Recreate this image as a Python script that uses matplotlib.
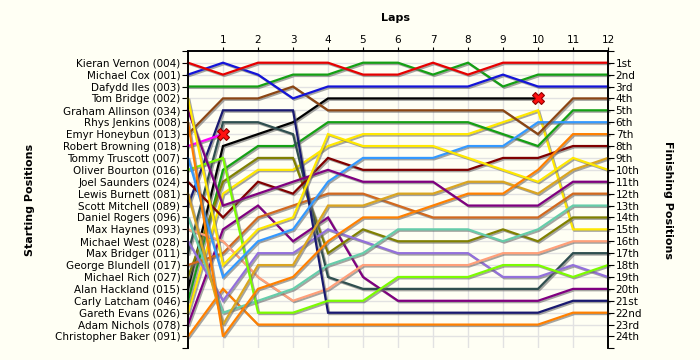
import matplotlib
matplotlib.use("Agg")
import matplotlib.pyplot as plt
import matplotlib.patheffects as pe

# ---------------- data ----------------
drivers = ["Kieran Vernon (004)", "Michael Cox (001)", "Dafydd Iles (003)", "Tom Bridge (002)",
           "Graham Allinson (034)", "Rhys Jenkins (008)", "Emyr Honeybun (013)", "Robert Browning (018)",
           "Tommy Truscott (007)", "Oliver Bourton (016)", "Joel Saunders (024)", "Lewis Burnett (081)",
           "Scott Mitchell (089)", "Daniel Rogers (096)", "Max Haynes (093)", "Michael West (028)",
           "Max Bridger (011)", "George Blundell (017)", "Michael Rich (027)", "Alan Hackland (015)",
           "Carly Latcham (046)", "Gareth Evans (026)", "Adam Nichols (078)", "Christopher Baker (091)"]

finish_labels = ["1st", "2nd", "3rd", "4th", "5th", "6th", "7th", "8th", "9th", "10th", "11th", "12th",
                 "13th", "14th", "15th", "16th", "17th", "18th", "19th", "20th", "21st", "22nd", "23rd", "24th"]

laps = list(range(0, 13))

# positions at lap 0..12 (lap 0 = starting grid); shorter lists = retired
pos_vernon    = [1, 2, 1, 1, 1, 2, 2, 1, 2, 1, 1, 1, 1]
pos_cox       = [2, 1, 2, 4, 3, 3, 3, 3, 3, 2, 3, 3, 3]
pos_iles      = [3, 3, 3, 2, 2, 1, 1, 2, 1, 3, 2, 2, 2]
pos_bridge    = [4, 18, 15, 14, 7, 8, 8, 8, 9, 10, 11, 9, 10]
pos_allinson  = [5, 13, 12, 11, 10, 11, 11, 11, 13, 13, 13, 11, 11]
pos_jenkins   = [6, 24, 20, 19, 16, 14, 14, 13, 12, 12, 10, 7, 7]
pos_honeybun  = [7, 4, 4, 3, 5, 5, 5, 5, 5, 5, 7, 4, 4]
pos_browning  = [8, 7]
pos_truscott  = [9, 19, 16, 15, 11, 9, 9, 9, 8, 8, 6, 6, 6]
pos_bourton   = [10, 9, 22, 22, 21, 21, 19, 19, 19, 18, 18, 19, 18]
pos_saunders  = [11, 14, 11, 12, 9, 10, 10, 10, 10, 9, 9, 8, 8]
pos_burnett   = [12, 23, 18, 18, 13, 13, 12, 12, 11, 11, 12, 10, 9]
pos_mitchell  = [13, 5, 5, 5, 22, 22, 22, 22, 22, 22, 22, 21, 21]
pos_rogers    = [14, 22, 21, 20, 18, 17, 15, 15, 15, 16, 15, 13, 13]
pos_haynes    = [15, 16, 19, 21, 20, 18, 18, 18, 18, 17, 17, 16, 16]
pos_west      = [16, 21, 17, 17, 15, 16, 17, 17, 17, 19, 19, 18, 19]
pos_bridger   = [17, 6, 6, 7, 19, 20, 20, 20, 20, 20, 20, 17, 17]
pos_blundell  = [18, 17, 14, 13, 12, 12, 13, 14, 14, 14, 14, 12, 12]
pos_rich      = [19, 11, 9, 9, 17, 15, 16, 16, 16, 15, 16, 14, 14]
pos_hackland  = [20, 8, 7, 6, 4, 4, 4, 4, 4, 4, 4]
pos_latcham   = [21, 10, 8, 8, 6, 6, 6, 6, 6, 7, 8, 5, 5]
pos_evans     = [22, 12, 10, 10, 8, 7, 7, 7, 7, 6, 5, 15, 15]
pos_nichols   = [23, 15, 13, 16, 14, 19, 21, 21, 21, 21, 21, 20, 20]
pos_baker     = [24, 20, 23, 23, 23, 23, 23, 23, 23, 23, 23, 22, 22]

positions = [pos_vernon, pos_cox, pos_iles, pos_bridge, pos_allinson, pos_jenkins, pos_honeybun,
             pos_browning, pos_truscott, pos_bourton, pos_saunders, pos_burnett, pos_mitchell,
             pos_rogers, pos_haynes, pos_west, pos_bridger, pos_blundell, pos_rich, pos_hackland,
             pos_latcham, pos_evans, pos_nichols, pos_baker]

colors = ["#E60000", "#1414D8", "#14A014", "#FFE800", "#800080", "#FF8000", "#8B4513", "#FF00FF",
          "#3399FF", "#7CFC00", "#800000", "#DAA520", "#191970", "#66CDAA", "#FFA07A", "#9370DB",
          "#2F4F4F", "#D2691E", "#808000", "#000000", "#14A014", "#FFE800", "#800080", "#FF8000"]

retired = [i for i, p in enumerate(positions) if len(p) < len(laps)]

# ---------------- figure ----------------
bg = "#FFFFF4"
fig = plt.figure(figsize=(7, 3.6), dpi=100, facecolor=bg)
ax = fig.add_axes([188 / 700, 1 - 348.4 / 360, 420 / 700, 297.6 / 360])
ax.set_facecolor(bg)
ax.set_xlim(0, 12)
ax.set_ylim(25, 0)

for x in range(1, 13):
    ax.axvline(x, color="#E2E2E2", lw=1, zorder=0)
for y in range(1, 25):
    ax.axhline(y, color="#E2E2E2", lw=1, zorder=0)

shadow = [pe.SimpleLineShadow(offset=(1.0, -1.0), shadow_color="#6a6a6a", alpha=0.6), pe.Normal()]
for i, (p, c) in enumerate(zip(positions, colors)):
    ax.plot(laps[:len(p)], p, color=c, lw=1.6, solid_joinstyle="miter",
            path_effects=shadow, zorder=3 + (24 - i) * 0.01, clip_on=False)

for i in retired:
    p = positions[i]
    ax.plot(len(p) - 1, p[-1], marker="X", ms=8, mfc="#FF1010", mec="#900000", mew=0.8, zorder=10)

font = "DejaVu Sans"
ax.xaxis.tick_top()
ax.set_xticks(range(1, 13))
ax.set_xticklabels([str(i) for i in range(1, 13)], fontsize=7.5, family=font)
ax.tick_params(axis="x", length=3, pad=1, colors="black")

ax.set_yticks(range(0, 26))
ax.set_yticklabels([""] + drivers + [""], fontsize=7.5, family=font)
ax.tick_params(axis="y", length=4, pad=1.5)

ax2 = ax.twinx()
ax2.set_ylim(25, 0)
ax2.set_yticks(range(0, 26))
ax2.set_yticklabels([""] + finish_labels + [""], fontsize=7.5, family=font)
ax2.tick_params(axis="y", length=4, pad=1.5)

for a in (ax, ax2):
    a.spines["bottom"].set_visible(False)
    for s in ("left", "right", "top"):
        a.spines[s].set_linewidth(1.2)

fig.text(395 / 700, 1 - 18 / 360, "Laps", ha="center", va="center", fontsize=8, fontweight="bold", family=font)
fig.text(30 / 700, 1 - 200 / 360, "Starting Positions", ha="center", va="center", rotation=90,
         fontsize=8, fontweight="bold", family=font)
fig.text(668 / 700, 1 - 200 / 360, "Finishing Positions", ha="center", va="center", rotation=270,
         fontsize=8, fontweight="bold", family=font)

fig.savefig("out.png", dpi=100, facecolor=bg)
